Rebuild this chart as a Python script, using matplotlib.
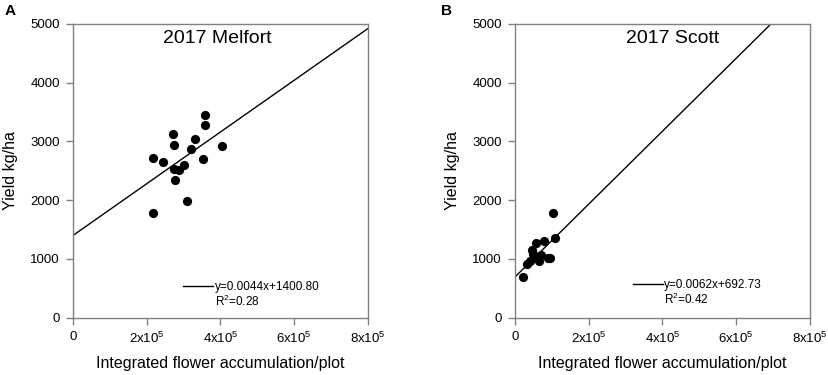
import matplotlib
matplotlib.use("Agg")
import matplotlib.pyplot as plt
import numpy as np
from matplotlib.lines import Line2D

plt.rcParams['font.family'] = ['Liberation Sans', 'DejaVu Sans']
plt.rcParams['mathtext.fontset'] = 'custom'
plt.rcParams['mathtext.rm'] = 'Liberation Sans'
plt.rcParams['mathtext.it'] = 'Liberation Sans'

# Panel A: 2017 Melfort
melfort_x = [2.18e5, 2.17e5, 2.44e5, 2.71e5, 2.74e5, 2.73e5, 2.89e5, 3.01e5, 2.76e5,
             3.09e5, 3.20e5, 3.32e5, 3.58e5, 3.58e5, 3.54e5, 4.05e5]
melfort_y = [2714, 1788, 2656, 3128, 2946, 2527, 2515, 2595, 2344,
             1992, 2872, 3042, 3446, 3275, 2702, 2928]
melfort_fit = (0.0044, 1400.80)
melfort_r2 = 0.28

# Panel B: 2017 Scott
scott_x = [0.23e5, 0.32e5, 0.40e5, 0.45e5, 0.48e5, 0.57e5, 0.52e5, 0.65e5, 0.72e5,
           0.80e5, 0.90e5, 0.95e5, 1.03e5, 1.08e5]
scott_y = [700, 920, 960, 1160, 1090, 1270, 1040, 970, 1060,
           1310, 1020, 1010, 1790, 1350]
scott_fit = (0.0062, 692.73)
scott_r2 = 0.42

x_ticks = [0, 2e5, 4e5, 6e5, 8e5]
x_ticklabels = ['0', r'2x10$^5$', r'4x10$^5$', r'6x10$^5$', r'8x10$^5$']
y_ticks = [0, 1000, 2000, 3000, 4000, 5000]

fig = plt.figure(figsize=(8.29, 3.75), dpi=100)
axA = fig.add_axes([0.0881, 0.1528, 0.3555, 0.7832])
axB = fig.add_axes([0.6212, 0.1528, 0.3555, 0.7832])

panels = [
    (axA, melfort_x, melfort_y, melfort_fit, melfort_r2, '2017 Melfort', 0.49, 'A', (0.374, 0.126)),
    (axB, scott_x, scott_y, scott_fit, scott_r2, '2017 Scott', 0.535, 'B', (0.401, 0.133)),
]

for ax, xs, ys, fit, r2, title, tx, letter, legpos in panels:
    ax.scatter(xs, ys, s=44, color='black', zorder=3, linewidths=0)
    xl = np.array([0, 8e5])
    ax.plot(xl, fit[0] * xl + fit[1], color='black', lw=1.0, zorder=2)
    ax.set_xlim(0, 8e5)
    ax.set_ylim(0, 5000)
    ax.set_xticks(x_ticks)
    ax.set_xticklabels(x_ticklabels)
    ax.set_yticks(y_ticks)
    ax.tick_params(direction='out', length=5, width=1, color='#808080',
                   labelsize=9.5, pad=4.5)
    for sp in ax.spines.values():
        sp.set_color('#808080')
        sp.set_linewidth(1)
    ax.set_xlabel('Integrated flower accumulation/plot', fontsize=11.5, labelpad=7)
    ax.set_ylabel('Yield kg/ha', fontsize=11.5, labelpad=9)
    ax.text(tx, 0.952, title, transform=ax.transAxes, ha='center', va='center', fontsize=14)
    handles = [Line2D([], [], color='black', lw=1.0), Line2D([], [], color='none')]
    labels = ['y=%.4fx+%.2f' % fit, r'R$^2$=%.2f' % r2]
    ax.legend(handles, labels, loc='upper left', bbox_to_anchor=legpos, frameon=False,
              fontsize=8.5, handlelength=2.5, handletextpad=0.15, labelspacing=0.1,
              borderpad=0, borderaxespad=0)

fig.text(5 / 829, 1 - 11 / 375, 'A', fontsize=11, fontweight='bold', va='center', ha='left')
fig.text(441 / 829, 1 - 11 / 375, 'B', fontsize=11, fontweight='bold', va='center', ha='left')

fig.savefig('out.png', dpi=100)
